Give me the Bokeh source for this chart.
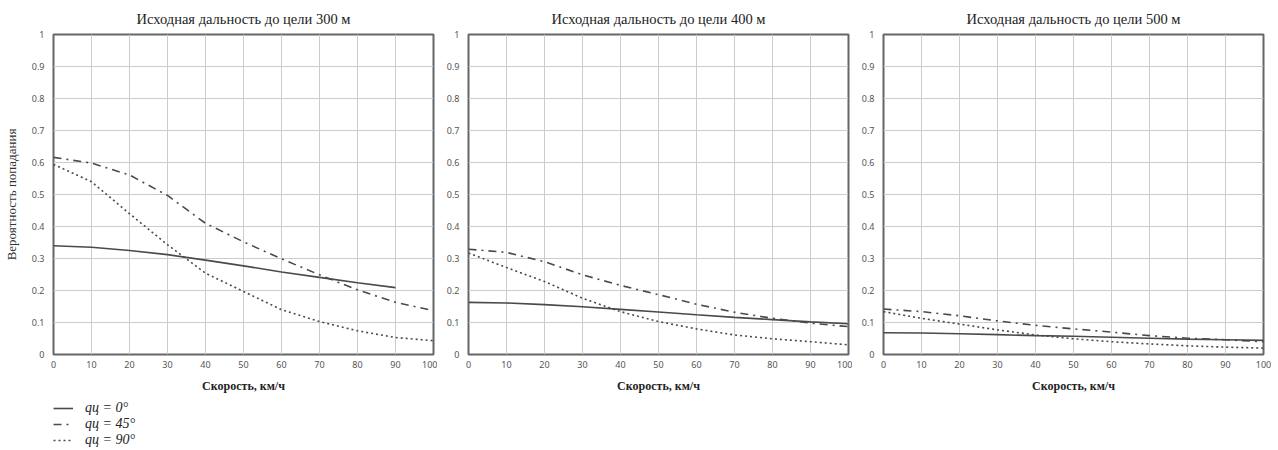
from bokeh.plotting import figure
from bokeh.layouts import row, column
from bokeh.models import Range1d, FixedTicker, Legend, LegendItem
from bokeh.embed import file_html
from bokeh.resources import INLINE

# ---- data ----
speed = [0, 10, 20, 30, 40, 50, 60, 70, 80, 90, 100]
speed_300_q0 = [0, 10, 20, 30, 40, 50, 60, 70, 80, 90]

titles = ["Исходная дальность до цели 300 м",
          "Исходная дальность до цели 400 м",
          "Исходная дальность до цели 500 м"]

p300_q0 = [0.340, 0.335, 0.325, 0.312, 0.295, 0.277, 0.258, 0.241, 0.224, 0.209]
p300_q45 = [0.616, 0.598, 0.561, 0.497, 0.410, 0.352, 0.299, 0.249, 0.202, 0.163, 0.137]
p300_q90 = [0.594, 0.540, 0.440, 0.343, 0.254, 0.197, 0.140, 0.103, 0.074, 0.053, 0.043]

p400_q0 = [0.163, 0.161, 0.156, 0.149, 0.141, 0.133, 0.124, 0.116, 0.109, 0.102, 0.096]
p400_q45 = [0.329, 0.319, 0.290, 0.249, 0.216, 0.187, 0.157, 0.132, 0.113, 0.098, 0.087]
p400_q90 = [0.317, 0.272, 0.228, 0.176, 0.134, 0.103, 0.080, 0.061, 0.049, 0.040, 0.030]

p500_q0 = [0.068, 0.067, 0.065, 0.062, 0.059, 0.057, 0.054, 0.051, 0.048, 0.046, 0.044]
p500_q45 = [0.142, 0.134, 0.121, 0.105, 0.091, 0.080, 0.070, 0.059, 0.051, 0.046, 0.040]
p500_q90 = [0.134, 0.113, 0.095, 0.077, 0.061, 0.049, 0.040, 0.033, 0.027, 0.023, 0.020]

legend_labels = ["qц = 0°", "qц = 45°", "qц = 90°"]

x_ticks = [0, 10, 20, 30, 40, 50, 60, 70, 80, 90, 100]
y_ticks = [0, 0.1, 0.2, 0.3, 0.4, 0.5, 0.6, 0.7, 0.8, 0.9, 1]
y_tick_labels = ["0", "0.1", "0.2", "0.3", "0.4", "0.5", "0.6", "0.7", "0.8", "0.9", "1"]

x_label = "Скорость, км/ч"
y_label = "Вероятность попадания"

series = [
    (p300_q0, p300_q45, p300_q90),
    (p400_q0, p400_q45, p400_q90),
    (p500_q0, p500_q45, p500_q90),
]

LINE = "#4a4a4a"
SERIF = "Liberation Serif"
SANS = "Noto Sans"
DASHDOT = "8 5 2 5"
DOT = "2 3"

borders = [(42, 4), (31, 4), (31, 8)]

figs = []
for i in range(3):
    lb, rb = borders[i]
    p = figure(frame_width=380, frame_height=320, output_backend="svg",
               toolbar_location=None, x_range=Range1d(0, 100), y_range=Range1d(0, 1),
               min_border_left=lb, min_border_right=rb, min_border_top=33,
               min_border_bottom=0,
               background_fill_color="white", border_fill_color="white")
    p.title.text = titles[i]
    p.title.align = "center"
    p.title.text_font = SERIF
    p.title.text_font_size = "14.5px"
    p.title.text_font_style = "normal"
    p.title.text_color = "#222222"
    p.title.standoff = 16
    p.outline_line_color = "#666666"
    p.outline_line_width = 2
    p.outline_line_alpha = 1

    p.xaxis.ticker = FixedTicker(ticks=x_ticks)
    p.yaxis.ticker = FixedTicker(ticks=y_ticks)
    p.yaxis.major_label_overrides = {v: s for v, s in zip(y_ticks, y_tick_labels)}
    for ax in (p.xaxis, p.yaxis):
        ax.axis_line_color = None
        ax.major_tick_line_color = None
        ax.minor_tick_line_color = None
        ax.major_label_text_font = SANS
        ax.major_label_text_font_size = "9px"
        ax.major_label_text_color = "#555555"
    p.yaxis.major_label_standoff = 3
    p.xaxis.major_label_standoff = 0
    p.xaxis.axis_label = x_label
    p.xaxis.axis_label_text_font = SERIF
    p.xaxis.axis_label_text_font_size = "12px"
    p.xaxis.axis_label_text_font_style = "bold"
    p.xaxis.axis_label_text_color = "#222222"
    p.xaxis.axis_label_standoff = 8
    if i == 0:
        p.yaxis.axis_label = y_label
        p.yaxis.axis_label_text_font = SERIF
        p.yaxis.axis_label_text_font_size = "13px"
        p.yaxis.axis_label_text_font_style = "normal"
        p.yaxis.axis_label_text_color = "#333333"
        p.yaxis.axis_label_standoff = 10

    p.grid.grid_line_color = "#cccccc"
    p.grid.grid_line_width = 1
    p.grid.grid_line_alpha = 1

    q0, q45, q90 = series[i]
    x0 = speed_300_q0 if i == 0 else speed
    p.line(x0, q0, line_color=LINE, line_width=1.6)
    p.line(speed, q45, line_color=LINE, line_width=1.6, line_dash=DASHDOT)
    p.line(speed, q90, line_color=LINE, line_width=1.6, line_dash=DOT)
    figs.append(p)

# legend strip under the first chart: same series, ranges set so only the legend shows
lg = figure(width=426, height=52, output_backend="svg", toolbar_location=None,
            x_axis_location=None, y_axis_location=None,
            x_range=Range1d(1000, 1001), y_range=Range1d(1000, 1001),
            min_border_left=39, min_border_right=0, min_border_top=5, min_border_bottom=0,
            background_fill_color="white", border_fill_color="white")
lg.outline_line_color = None
lg.grid.visible = False
g0 = lg.line(speed_300_q0, p300_q0, line_color=LINE, line_width=1.6)
g45 = lg.line(speed, p300_q45, line_color=LINE, line_width=1.6, line_dash=DASHDOT)
g90 = lg.line(speed, p300_q90, line_color=LINE, line_width=1.6, line_dash=DOT)
legend = Legend(items=[LegendItem(label=legend_labels[0], renderers=[g0]),
                       LegendItem(label=legend_labels[1], renderers=[g45]),
                       LegendItem(label=legend_labels[2], renderers=[g90])],
                location="top_left", orientation="vertical")
legend.label_text_font = SERIF
legend.label_text_font_size = "14px"
legend.label_text_font_style = "italic"
legend.label_text_color = "#222222"
legend.glyph_width = 20
legend.glyph_height = 12
legend.label_height = 12
legend.label_standoff = 12
legend.spacing = 0
legend.padding = 0
legend.margin = 0
legend.border_line_color = None
legend.background_fill_alpha = 0
lg.add_layout(legend, "center")

layout = row(column(figs[0], lg), figs[1], figs[2])
open("out.html", "w").write(file_html(layout, INLINE))
